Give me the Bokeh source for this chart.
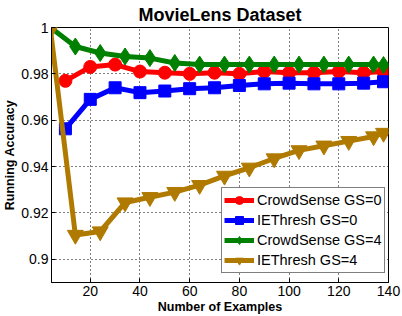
from bokeh.plotting import figure
from bokeh.models import FixedTicker, Legend, LegendItem, Range1d
from bokeh.embed import file_html
from bokeh.resources import INLINE

# ---- data ----
x_gs0 = [10, 20, 30, 40, 50, 60, 70, 80, 90, 100, 110, 120, 130, 138]
crowdsense_gs0 = [0.977, 0.983, 0.984, 0.981, 0.9805, 0.980, 0.9805, 0.980, 0.981, 0.9805, 0.9805, 0.981, 0.9805, 0.981]
iethresh_gs0 = [0.9563, 0.969, 0.974, 0.9719, 0.9726, 0.9736, 0.974, 0.975, 0.9757, 0.976, 0.9757, 0.9757, 0.976, 0.9766]

x_gs4 = [4, 14, 24, 34, 44, 54, 64, 74, 84, 94, 104, 114, 124, 134, 138]
crowdsense_gs4 = [1.0, 0.9918, 0.989, 0.9875, 0.9868, 0.9847, 0.984, 0.984, 0.984, 0.984, 0.984, 0.984, 0.984, 0.984, 0.9838]
iethresh_gs4 = [0.999, 0.9105, 0.912, 0.9245, 0.9268, 0.929, 0.932, 0.936, 0.9395, 0.9435, 0.947, 0.949, 0.951, 0.953, 0.9545]

x_ticks = [20, 40, 60, 80, 100, 120, 140]
y_ticks = [0.9, 0.92, 0.94, 0.96, 0.98, 1.0]
y_tick_labels = ["0.9", "0.92", "0.94", "0.96", "0.98", "1"]

FONT = "Liberation Sans"

p = figure(width=402, height=316, output_backend="svg", toolbar_location=None,
           x_range=Range1d(4.4, 140), y_range=Range1d(0.89, 1.0),
           min_border_left=0, min_border_right=14, min_border_top=25, min_border_bottom=0)

p.title.text = "MovieLens Dataset"
p.title.text_font = FONT
p.title.text_font_size = "18px"
p.title.text_font_style = "bold"
p.title.text_color = "black"
p.title.align = "center"
p.title.standoff = 5
p.title.offset = 0

p.outline_line_color = "black"
p.outline_line_width = 1
p.outline_line_alpha = 1

for ax in (p.xaxis[0], p.yaxis[0]):
    ax.major_tick_in = 4
    ax.major_tick_out = 0
    ax.minor_tick_in = 0
    ax.minor_tick_out = 0
    ax.axis_line_color = "black"
    ax.major_tick_line_color = "black"
    ax.major_label_text_font = FONT
    ax.major_label_text_font_size = "14px"
    ax.major_label_text_color = "black"
    ax.axis_label_text_font = FONT
    ax.axis_label_text_font_size = "12.5px"
    ax.axis_label_text_font_style = "bold"
    ax.axis_label_text_color = "black"
    ax.major_label_standoff = 3
    ax.axis_label_standoff = 1

p.xaxis.ticker = FixedTicker(ticks=x_ticks)
p.yaxis.ticker = FixedTicker(ticks=y_ticks)
p.yaxis.major_label_overrides = {t: l for t, l in zip(y_ticks, y_tick_labels)}
p.xaxis.axis_label = "Number of Examples"
p.yaxis.axis_label = "Running Accuracy"

for g in (p.xgrid[0], p.ygrid[0]):
    g.grid_line_color = "black"
    g.grid_line_dash = "1 3"
    g.grid_line_width = 1
    g.grid_line_alpha = 1

series = [
    ("CrowdSense GS=0", x_gs0, crowdsense_gs0, "#ff0000", "circle", 13),
    ("IEThresh GS=0", x_gs0, iethresh_gs0, "#0000ff", "square", 12),
    ("CrowdSense GS=4", x_gs4, crowdsense_gs4, "#008000", "diamond", 17),
    ("IEThresh GS=4", x_gs4, iethresh_gs4, "#b07a00", "inverted_triangle", 16),
]

items = []
for label, xs, ys, col, mk, sz in series:
    ln = p.line(xs, ys, line_color=col, line_width=5)
    sc = p.scatter(xs, ys, marker=mk, size=sz, fill_color=col, line_color=col)
    items.append(LegendItem(label=label, renderers=[ln, sc]))

legend = Legend(items=items, location=(170, 9))
legend.label_text_font = FONT
legend.label_text_font_size = "14.5px"
legend.label_text_color = "black"
legend.border_line_color = "black"
legend.border_line_width = 1
legend.background_fill_color = "white"
legend.background_fill_alpha = 1
legend.glyph_width = 30
legend.glyph_height = 20
legend.label_height = 20
legend.label_standoff = 3
legend.spacing = 0
legend.padding = 2
legend.margin = 0
p.add_layout(legend, "center")

open("out.html", "w").write(file_html(p, INLINE))
